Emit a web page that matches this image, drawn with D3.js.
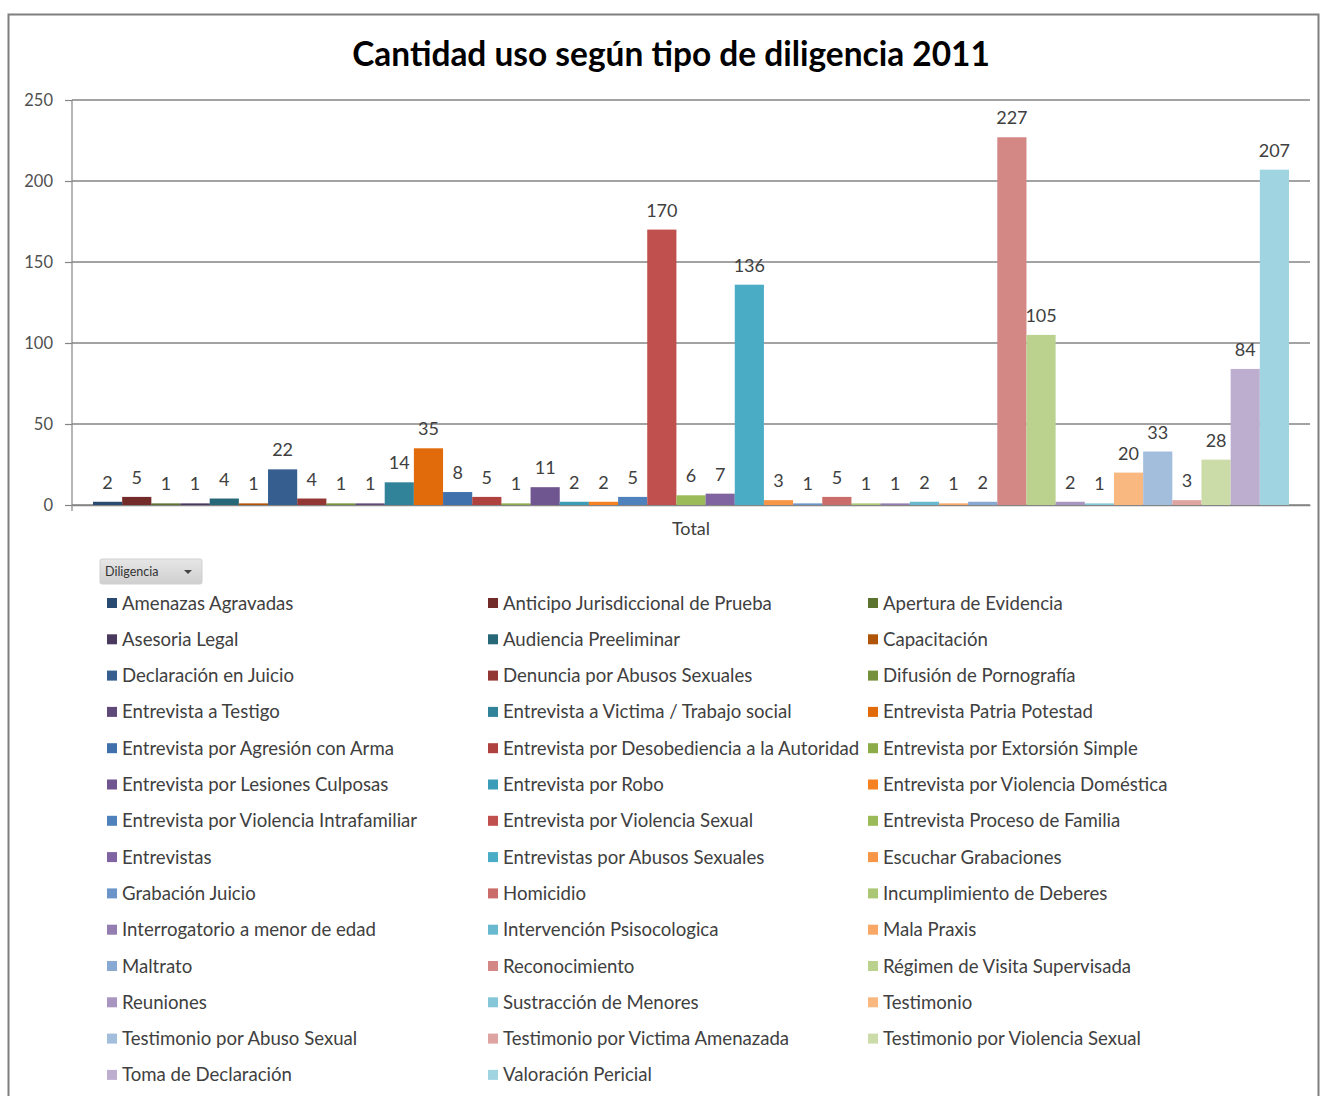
<!DOCTYPE html>
<html lang="es">
<head>
<meta charset="utf-8">
<script src="https://cdn.jsdelivr.net/npm/d3@7"></script>
<style>
  html, body { margin: 0; padding: 0; background: #ffffff; }
  svg { display: block; }
  text { font-family: Lato, "Open Sans", "DejaVu Sans", sans-serif; }
</style>
</head>
<body>
<svg id="chart" width="1324" height="1096"></svg>
<script>
// Tipos de diligencia (orden alfabético, como en la tabla dinámica)
const diligencias = [
  "Amenazas Agravadas", "Anticipo Jurisdiccional de Prueba", "Apertura de Evidencia",
  "Asesoria Legal", "Audiencia Preeliminar", "Capacitación",
  "Declaración en Juicio", "Denuncia por Abusos Sexuales", "Difusión de Pornografía",
  "Entrevista a Testigo", "Entrevista a Victima / Trabajo social", "Entrevista Patria Potestad",
  "Entrevista por Agresión con Arma", "Entrevista por Desobediencia a la Autoridad", "Entrevista por Extorsión Simple",
  "Entrevista por Lesiones Culposas", "Entrevista por Robo", "Entrevista por Violencia Doméstica",
  "Entrevista por Violencia Intrafamiliar", "Entrevista por Violencia Sexual", "Entrevista Proceso de Familia",
  "Entrevistas", "Entrevistas por Abusos Sexuales", "Escuchar Grabaciones",
  "Grabación Juicio", "Homicidio", "Incumplimiento de Deberes",
  "Interrogatorio a menor de edad", "Intervención Psisocologica", "Mala Praxis",
  "Maltrato", "Reconocimiento", "Régimen de Visita Supervisada",
  "Reuniones", "Sustracción de Menores", "Testimonio",
  "Testimonio por Abuso Sexual", "Testimonio por Victima Amenazada", "Testimonio por Violencia Sexual",
  "Toma de Declaración", "Valoración Pericial"
];

// Cantidad de usos en 2011 por diligencia
const cantidades = [
  2, 5, 1, 1, 4, 1,
  22, 4, 1, 1, 14, 35,
  8, 5, 1, 11, 2, 2,
  5, 170, 6, 7, 136, 3,
  1, 5, 1, 1, 2, 1,
  2, 227, 105, 2, 1, 20,
  33, 3, 28, 84, 207
];

const categoria = ["Total"];
const yTicks = [0, 50, 100, 150, 200, 250];
const titulo = "Cantidad uso según tipo de diligencia 2011";
const campoFiltro = "Diligencia";

// Paleta: seis colores de acento, oscurecidos o aclarados en cada vuelta
const acentos = ["#4F81BD", "#C0504D", "#9BBB59", "#8064A2", "#4BACC6", "#F79646"];
const variaciones = [-0.42, -0.26, -0.12, 0, 0.16, 0.32, 0.48];
function colorSerie(i) {
  const c = d3.hsl(acentos[i % 6]);
  const v = variaciones[Math.floor(i / 6)];
  if (v < 0) c.l = c.l * (1 + v);
  else c.l = c.l + (1 - c.l) * v;
  return c.formatHex();
}

const svg = d3.select("#chart");

// Marco exterior del gráfico
svg.append("rect")
  .attr("x", 8.5).attr("y", 14.5)
  .attr("width", 1310).attr("height", 1100)
  .attr("fill", "#ffffff")
  .attr("stroke", "#7f7f7f").attr("stroke-width", 2);

// Título
const title = svg.append("text")
  .attr("x", 671).attr("y", 66)
  .attr("text-anchor", "middle")
  .attr("font-size", 32).attr("font-weight", 700)
  .attr("fill", "#000000")
  .text(titulo);
const tw = title.node().getComputedTextLength();
title.attr("font-size", 32 * 638 / tw);

// Escalas
const plot = { left: 72, right: 1310, top: 100, bottom: 505 };
const y = d3.scaleLinear().domain([0, 250]).range([plot.bottom, plot.top]);
const x0 = d3.scaleBand().domain(categoria).range([plot.left, plot.right]).padding(0);
const x1 = d3.scaleBand().domain(diligencias)
  .range([x0("Total"), x0("Total") + x0.bandwidth()])
  .paddingInner(0).paddingOuter(0.72);

// Líneas de división horizontales
svg.append("g")
  .selectAll("line")
  .data(yTicks)
  .join("line")
  .attr("x1", plot.left).attr("x2", plot.right)
  .attr("y1", d => y(d)).attr("y2", d => y(d))
  .attr("stroke", "#858585").attr("stroke-width", 1.5);

// Eje vertical
const yAxis = d3.axisLeft(y).tickValues(yTicks).tickSize(7).tickPadding(12);
const gy = svg.append("g").attr("transform", `translate(${plot.left},0)`).call(yAxis);
gy.select(".domain").attr("stroke", "#858585").attr("stroke-width", 1.2)
  .attr("d", `M0,${plot.top}V${plot.bottom + 6}`);
gy.selectAll(".tick line").attr("stroke", "#858585").attr("stroke-width", 1.2);
gy.selectAll(".tick text")
  .attr("font-size", 16.5).attr("fill", "#505050")
  .style("font-family", "Lato, 'Open Sans', sans-serif");

// Eje de categorías
const xAxis = d3.axisBottom(x0).tickSize(0).tickPadding(17);
const gx = svg.append("g").attr("transform", `translate(0,${plot.bottom})`).call(xAxis);
gx.select(".domain").attr("stroke", "#858585").attr("stroke-width", 1.5);
gx.selectAll(".tick text")
  .attr("font-size", 18).attr("fill", "#404040")
  .style("font-family", "Lato, 'Open Sans', sans-serif");

// Barras
const datos = diligencias.map((d, i) => ({ nombre: d, valor: cantidades[i], i }));
svg.append("g")
  .selectAll("rect")
  .data(datos)
  .join("rect")
  .attr("x", d => x1(d.nombre))
  .attr("y", d => y(d.valor))
  .attr("width", x1.bandwidth())
  .attr("height", d => y(0) - y(d.valor))
  .attr("fill", d => colorSerie(d.i));

// Etiquetas de valor
svg.append("g")
  .selectAll("text")
  .data(datos)
  .join("text")
  .attr("x", d => x1(d.nombre) + x1.bandwidth() / 2)
  .attr("y", d => y(d.valor) - 13)
  .attr("text-anchor", "middle")
  .attr("font-size", 18)
  .attr("fill", "#404040")
  .text(d => d.valor);

// Botón de campo de la tabla dinámica
const btn = svg.append("g").attr("transform", "translate(100,559)");
const grad = svg.append("defs").append("linearGradient")
  .attr("id", "btnGrad").attr("x1", 0).attr("x2", 0).attr("y1", 0).attr("y2", 1);
grad.append("stop").attr("offset", "0%").attr("stop-color", "#e6e6e6");
grad.append("stop").attr("offset", "100%").attr("stop-color", "#cfcfcf");
btn.append("rect").attr("width", 102).attr("height", 25).attr("rx", 2)
  .attr("fill", "url(#btnGrad)").attr("stroke", "#d0d0d0");
btn.append("text").attr("x", 5).attr("y", 17)
  .attr("font-size", 12.5).attr("fill", "#333333").text(campoFiltro);
btn.append("path").attr("d", "M84,11 L92,11 L88,15 Z").attr("fill", "#444444");

// Leyenda en tres columnas
const colX = [107, 488, 868];
const fila0 = 603, pasoFila = 36.3;
const legend = svg.append("g")
  .selectAll("g")
  .data(datos)
  .join("g")
  .attr("transform", d => `translate(${colX[d.i % 3]},${fila0 + Math.floor(d.i / 3) * pasoFila})`);
legend.append("rect")
  .attr("x", 0).attr("y", -5).attr("width", 10).attr("height", 10)
  .attr("fill", d => colorSerie(d.i));
legend.append("text")
  .attr("x", 15).attr("y", 6.5)
  .attr("font-size", 18.6)
  .attr("fill", "#404040")
  .text(d => d.nombre);
</script>
</body>
</html>
